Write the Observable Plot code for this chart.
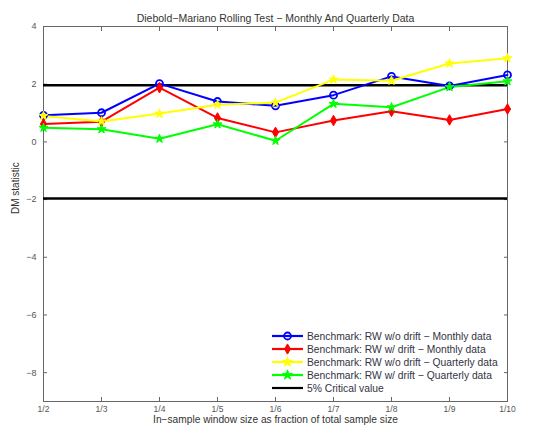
<!DOCTYPE html>
<html><head><meta charset="utf-8">
<script src="https://cdn.jsdelivr.net/npm/d3@7"></script>
<script src="https://cdn.jsdelivr.net/npm/@observablehq/plot@0.6"></script>
<style>body{margin:0;background:#fff;font-family:"Liberation Sans",Arial,sans-serif}</style>
</head><body><div id="chart"></div>
<script>
const categories = ["1/2","1/3","1/4","1/5","1/6","1/7","1/8","1/9","1/10"];
const rwNoDriftMonthly = [0.92, 1.01, 2.02, 1.40, 1.25, 1.62, 2.27, 1.94, 2.32];
const rwDriftMonthly   = [0.62, 0.70, 1.88, 0.83, 0.33, 0.74, 1.06, 0.76, 1.14];
const rwNoDriftQuarterly = [0.90, 0.71, 0.98, 1.29, 1.36, 2.16, 2.12, 2.72, 2.90];
const rwDriftQuarterly   = [0.49, 0.44, 0.11, 0.61, 0.04, 1.32, 1.20, 1.90, 2.10];
const criticalValues = [1.96, -1.96];
const yTicks = [4, 2, 0, -2, -4, -6, -8];
const seriesNames = [
  "Benchmark: RW w/o drift \u2212 Monthly data",
  "Benchmark: RW w/ drift \u2212 Monthly data",
  "Benchmark: RW w/o drift \u2212 Quarterly data",
  "Benchmark: RW w/ drift \u2212 Quarterly data",
  "5% Critical value"
];
const colors = ["#0000ff", "#ff0000", "#ffff00", "#00ff00", "#000000"];
const symbols = ["circle", "diamond", "star", "star"];
const seriesValues = [rwNoDriftMonthly, rwDriftMonthly, rwNoDriftQuarterly, rwDriftQuarterly];

const rows = [];
seriesValues.forEach((vals, s) => vals.forEach((v, i) => rows.push({s, x: categories[i], y: v})));

const lineMarks = [];
const dotMarks = [];
seriesValues.forEach((vals, s) => {
  const d = rows.filter(r => r.s === s);
  lineMarks.push(Plot.line(d, {x: "x", y: "y", stroke: colors[s], strokeWidth: 2}));
  if (s === 0) dotMarks.push(Plot.dot(d, {x: "x", y: "y", r: 3.5, stroke: colors[s], strokeWidth: 1.8, fill: "none"}));
  else dotMarks.push(Plot.dot(d, {x: "x", y: "y", r: s === 1 ? 3.2 : 2.8, symbol: symbols[s], fill: colors[s], stroke: colors[s], strokeWidth: 1}));
});

const plot = Plot.plot({
  width: 538, height: 428,
  marginTop: 26, marginBottom: 27, marginLeft: 43, marginRight: 31,
  style: {fontFamily: "Liberation Sans, Arial, sans-serif", fontSize: "9px", color: "#444", background: "#fff"},
  x: {type: "point", domain: categories, padding: 0},
  y: {domain: [-9, 4]},
  marks: [
    Plot.frame({stroke: "#666"}),
    Plot.axisY(yTicks, {anchor: "left", tickSize: 0, tickPadding: 7, label: null, fill: "#555"}),
    Plot.axisY(yTicks, {anchor: "left", tickSize: -4, text: null, label: null, stroke: "#666"}),
    Plot.axisY(yTicks, {anchor: "right", tickSize: -4, text: null, label: null, stroke: "#666"}),
    Plot.axisX({anchor: "bottom", tickSize: 0, tickPadding: 4, label: null, fill: "#555", fontSize: 8.5}),
    Plot.axisX({anchor: "bottom", tickSize: -4, text: null, label: null, stroke: "#666"}),
    Plot.axisX({anchor: "top", tickSize: -4, text: null, label: null, stroke: "#666"}),
    Plot.ruleY(criticalValues, {stroke: "#000", strokeWidth: 2.5}),
    ...lineMarks,
    ...dotMarks,
    Plot.text(["Diebold\u2212Mariano Rolling Test \u2212 Monthly And Quarterly Data"], {frameAnchor: "top", dy: -12, fill: "#333", fontSize: 10.5}),
    Plot.text(["In\u2212sample window size as fraction of total sample size"], {frameAnchor: "bottom", dy: 21.5, fill: "#333", fontSize: 10.2}),
    Plot.text(["DM statistic"], {frameAnchor: "left", dx: -28, rotate: -90, fill: "#333", fontSize: 10})
  ]
});

// Legend inside the plot area (bottom right)
const svg = d3.select(plot);
const lg = svg.append("g").attr("font-family", "Liberation Sans, Arial, sans-serif").attr("font-size", 10.3).attr("text-anchor", "start");
const x0 = 272, y0 = 336, rowH = 13;
seriesNames.forEach((name, i) => {
  const yy = y0 + i * rowH;
  lg.append("line").attr("x1", x0).attr("x2", x0 + 31).attr("y1", yy).attr("y2", yy)
    .attr("stroke", colors[i]).attr("stroke-width", 2.2);
  if (i < 4) {
    const sym = i === 0 ? d3.symbolCircle : i === 1 ? d3.symbolDiamond : d3.symbolStar;
    lg.append("path").attr("d", d3.symbol(sym, i === 0 ? 38 : 30)())
      .attr("transform", `translate(${x0 + 15.5},${yy})`)
      .attr("fill", i === 0 ? "none" : colors[i]).attr("stroke", colors[i]).attr("stroke-width", i === 0 ? 1.8 : 1);
  }
  lg.append("text").attr("x", x0 + 35).attr("y", yy).attr("dy", "0.35em").attr("fill", "#334").text(name);
});

document.getElementById("chart").appendChild(plot);
</script>
</body></html>
